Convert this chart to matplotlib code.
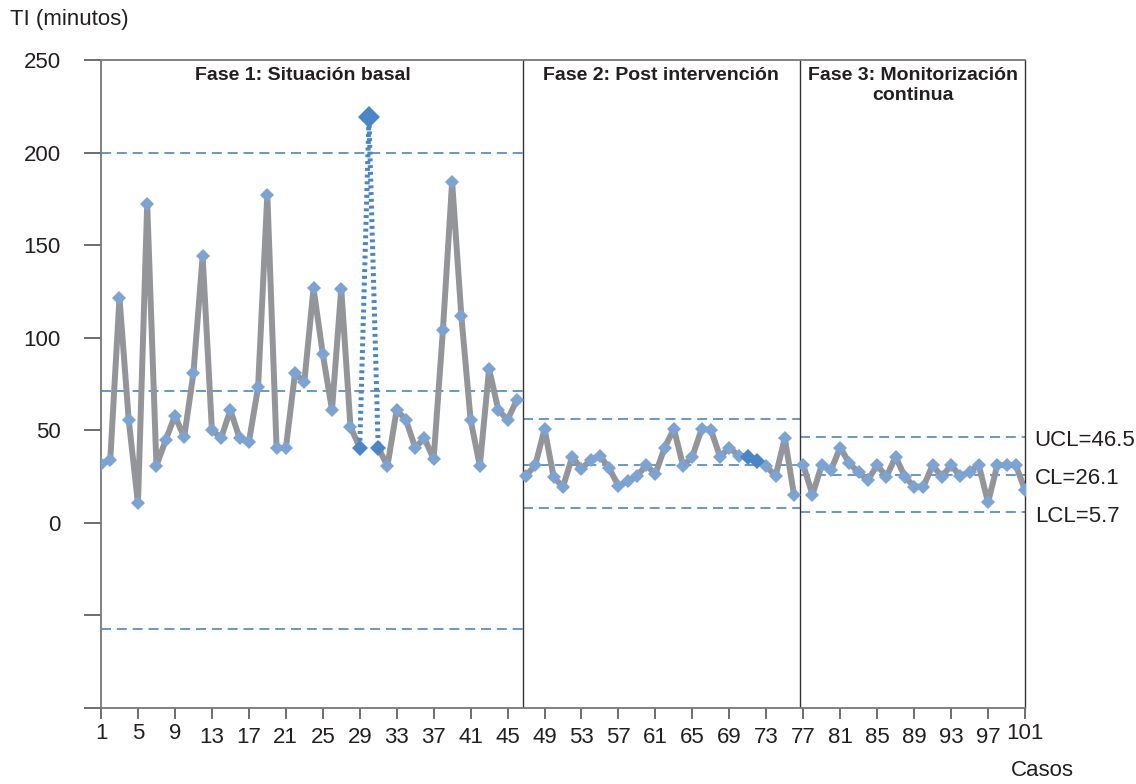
import matplotlib
matplotlib.use("Agg")
import matplotlib.pyplot as plt
import matplotlib.transforms as mtransforms
import numpy as np

plt.rcParams['font.family'] = ['Liberation Sans', 'DejaVu Sans']

# Tiempo (minutos) por caso
fase1 = [31.8, 33.9, 121.6, 55.6, 10.5, 172.4, 30.8, 44.7, 57.9, 46.2,
         80.8, 144.1, 50.3, 45.8, 61.0, 45.6, 43.5, 73.2, 177.3, 40.7,
         40.2, 81.0, 75.9, 126.7, 91.3, 61.0, 126.5, 51.9, 40.7, 219.0,
         40.7, 30.8, 61.0, 55.6, 40.7, 45.6, 34.5, 103.9, 184.2, 111.7,
         55.6, 30.8, 83.2, 61.0, 55.6, 66.4]
fase2 = [25.4, 31.2, 50.7, 24.5, 19.5, 35.7, 29.1, 34.1, 36.3, 29.4,
         20.0, 22.4, 25.1, 31.2, 26.4, 40.7, 50.7, 30.8, 35.7, 50.7,
         50.3, 35.7, 40.7, 36.3, 35.7, 33.5, 30.8, 25.1, 45.8, 15.2]
fase3 = [31.2, 15.2, 31.2, 28.5, 40.7, 32.1, 27.2, 23.1, 31.2, 24.9,
         35.7, 24.9, 19.6, 19.5, 31.2, 24.9, 31.2, 25.1, 27.6, 31.2,
         11.0, 31.2, 31.2, 31.2, 17.7]

# limites de control por fase: (UCL, CL, LCL)
limites1 = (200.0, 71.0, -57.5)
limites2 = (56.0, 31.5, 8.0)
limites3 = (46.5, 26.1, 5.7)
etiquetas3 = ["UCL=46.5", "CL=26.1", "LCL=5.7"]

titulos = ["Fase 1: Situación basal", "Fase 2: Post intervención",
           "Fase 3: Monitorización\ncontinua"]
casos_destacados = [29, 30, 31, 71, 72]
caso_atipico = 30
cortes = [46.65, 76.65]

gris = '#939598'
azul_claro = '#7BA3D4'
azul = '#4A86C5'
texto = '#231f20'

fig = plt.figure(figsize=(11.36, 7.84), dpi=100)
ax = fig.add_axes([101/1136, 1 - 708/784, 924/1136, 648/784])

fases = [fase1, fase2, fase3]
inicio = 1
for vals in fases:
    x = np.arange(inicio, inicio + len(vals))
    y = np.array(vals, dtype=float)
    y_linea = y.copy()
    if inicio <= caso_atipico < inicio + len(vals):
        y_linea[caso_atipico - inicio] = np.nan
    ax.plot(x, y_linea, color=gris, lw=4.3, zorder=2)
    ax.plot(x, y, ls='none', marker='D', ms=7.3, color=azul_claro,
            markeredgewidth=0, zorder=3)
    inicio += len(vals)

todos = fase1 + fase2 + fase3
# linea punteada del caso atipico
xa = [caso_atipico - 1, caso_atipico, caso_atipico + 1]
ya = [todos[i - 1] for i in xa]
ax.plot(xa, ya, color=azul, lw=3.6, ls=(0, (0.6, 0.75)), zorder=2.5)
for c in casos_destacados:
    ms = 11 if c == caso_atipico else 8.5
    ax.plot(c, todos[c - 1], ls='none', marker='D', ms=ms, color=azul,
            markeredgewidth=0, zorder=4)

# limites de control
tramos = [(1, cortes[0], limites1), (cortes[0], cortes[1], limites2),
          (cortes[1], 101, limites3)]
for x0, x1, lims in tramos:
    for v in lims:
        ax.plot([x0, x1], [v, v], color=azul, lw=1.2, ls=(0, (6, 3.5)),
                zorder=1)

for txt, v in zip(etiquetas3, limites3):
    ax.annotate(txt, xy=(101, v), xytext=(7, -3), textcoords='offset points',
                ha='left', va='center', fontsize=16, color=texto,
                annotation_clip=False)

for c in cortes:
    ax.axvline(c, color='#333333', lw=1.0, zorder=1)

# titulos de fase
centros = [22.9, (cortes[0] + cortes[1]) / 2, (cortes[1] + 101) / 2]
trans = mtransforms.blended_transform_factory(ax.transData, ax.transAxes)
for t, cx in zip(titulos, centros):
    ax.text(cx, 0.989, t, transform=trans, ha='center', va='top',
            fontsize=14, fontweight='bold', color=texto,
            linespacing=1.2)

ax.set_xlim(1, 101)
ax.set_ylim(-100, 250)
ax.set_xticks(np.arange(1, 102, 4))
ax.set_yticks(np.arange(-100, 251, 50))
ax.set_yticklabels(['', ''] + [str(v) for v in range(0, 251, 50)])
ax.tick_params(axis='y', direction='out', length=12, width=1.2,
               color='#555555', labelsize=16, labelcolor=texto, pad=17)
ax.tick_params(axis='x', direction='out', length=8, width=1.2,
               color='#555555', labelsize=16, labelcolor=texto, pad=6)
for s in ['left', 'bottom', 'top']:
    ax.spines[s].set_color('#777777')
    ax.spines[s].set_linewidth(1.3)
ax.spines['right'].set_color('#333333')
ax.spines['right'].set_linewidth(1.0)

# pequeno desplazamiento de algunas etiquetas como en el original
for lab in ax.get_xticklabels():
    if lab.get_text() in ('1', '5', '9', '101'):
        lab.set_transform(lab.get_transform() +
                          mtransforms.ScaledTranslation(0, 4/100, fig.dpi_scale_trans))

fig.text(10/1136, 1 - 20/784, 'TI (minutos)', ha='left', va='center',
         fontsize=16, color=texto)
fig.text(1042/1136, 1 - 770/784, 'Casos', ha='center', va='center',
         fontsize=16, color=texto)

fig.savefig('out.png', dpi=100)
